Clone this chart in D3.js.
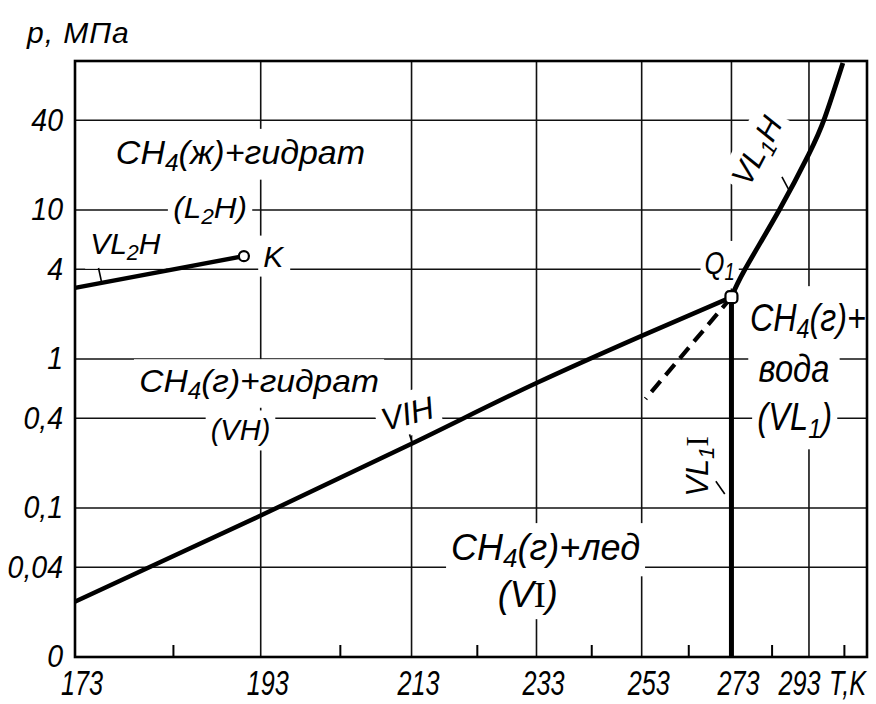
<!DOCTYPE html>
<html>
<head>
<meta charset="utf-8">
<script src="https://cdnjs.cloudflare.com/ajax/libs/d3/7.8.5/d3.min.js"></script>
<style>
  body { margin: 0; background: #fff; }
  svg { display: block; }
  text { font-family: "Liberation Sans", Arial, sans-serif; font-style: italic; fill: #000; }
</style>
</head>
<body>
<svg id="chart"></svg>
<script>
// temperature axis, K (plotted as 1/T)
const tempRange = [173, 310];
const tempTicks = [173, 193, 213, 233, 253, 273, 293];
const tempMinor = [183, 203, 223, 243, 263, 283, 303];
// pressure axis, MPa (log)
const pressureRange = [0.01, 100];
const pressureTicks = [0.01, 0.04, 0.1, 0.4, 1, 4, 10, 40];
const pressureLabels = ["0", "0,04", "0,1", "0,4", "1", "4", "10", "40"];

// VL2H: gas + liquid CH4 + hydrate, ends at K
const vl2hT = [173, 191];
const vl2hP = [3.0, 4.9];
// VIH: gas + ice + hydrate
const vihT = [173, 193, 213, 233, 253, 273];
const vihP = [0.0235, 0.089, 0.27, 0.69, 1.43, 2.6];
// VL1H: gas + water + hydrate
const vl1hT = [273, 276.3, 285, 293, 297.5, 302.7];
const vl1hP = [2.6, 4, 10, 23.8, 42, 97];
// metastable continuation below Q1 (dashed)
const dashT = [273, 253.8];
const dashP = [2.6, 0.54];
// VL1I: ice melting
const vl1iT = [273, 273];
const vl1iP = [0.01, 2.6];
// special points
const pointK = [191, 4.9];
const pointQ1 = [273, 2.6];

// region / line names, placed in data units
const labels = [
  {text: 'CH_4(ж)+гидрат', T: 190.6, p: 20.4, size: 34},
  {text: '(L_2H)', T: 187.1, p: 8.87, size: 30, sx: 1.05},
  {text: 'VL_2H', T: 178.0, p: 5.09, size: 30},
  {text: 'K', T: 193.3, p: 4.17, size: 30, anchor: 'start'},
  {text: 'CH_4(г)+гидрат', T: 192.8, p: 0.596, size: 32, sx: 1.05},
  {text: '(VH)', T: 190.6, p: 0.284, size: 29},
  {text: 'VIH', T: 212.8, p: 0.364, size: 32, angle: -15},
  {text: 'CH_4(г)+лед', T: 234.6, p: 0.0447, size: 36},
  {text: '(V~I)', T: 231.5, p: 0.0216, size: 36},
  {text: 'Q_1', T: 270.2, p: 3.74, size: 32, sx: 0.8},
  {text: 'CH_4(г)+', T: 292.7, p: 1.55, size: 38, sx: 0.85, pad: [3, 10]},
  {text: 'вода', T: 288.9, p: 0.696, size: 38, sx: 0.86, pad: [12, 10]},
  {text: '(VL_1)', T: 289.1, p: 0.332, size: 38, sx: 0.86, pad: [6, 6]},
  {text: 'VL_1~I', T: 267.4, p: 0.19, size: 31, angle: -90, knock: false},
  {text: 'VL_1H', T: 281.6, p: 23.1, size: 31, angle: -62},
];
// short leader strokes from names to lines
const leaders = [
  {T: [175.3, 175.6], p: [4.08, 3.29]},
  {T: [212.7, 213.2], p: [0.312, 0.267]},
  {T: [269.3, 271.4], p: [0.151, 0.124]},
  {T: [285.7, 287.5], p: [16.7, 13.7]},
];

class PhaseDiagram {

  margin = {top: 61, bottom: 47, left: 75, right: 9}

  constructor(svg, width = 876, height = 704) {
    this.svg = svg;
    this.outerWidth = width;
    this.outerHeight = height;
    this.width = width - this.margin.left - this.margin.right;
    this.height = height - this.margin.top - this.margin.bottom;
  }

  initialize() {
    this.svg = d3.select(this.svg)
      .attr('width', this.outerWidth)
      .attr('height', this.outerHeight);
    this.container = this.svg.append('g')
      .attr('transform', `translate(${this.margin.left},${this.margin.top})`);

    this.xScale = d3.scaleLinear()
      .domain([1 / tempRange[0], 1 / tempRange[1]])
      .range([0, this.width]);
    this.yScale = d3.scaleLog().domain(pressureRange).range([this.height, 0]);
    this.x = t => this.xScale(1 / t);
    this.y = p => this.yScale(p);

    this.gridLayer = this.container.append('g');
    this.knockLayer = this.container.append('g');
    this.textLayer = this.container.append('g');
    this.lineLayer = this.container.append('g');
    this.frameLayer = this.container.append('g');
  }

  drawGrid() {
    this.gridLayer.selectAll('.hgrid')
      .data(pressureTicks.slice(1))
      .join('line')
        .attr('class', 'hgrid')
        .attr('x1', 0).attr('x2', this.width)
        .attr('y1', d => this.y(d)).attr('y2', d => this.y(d));
    this.gridLayer.selectAll('.vgrid')
      .data(tempTicks.slice(1))
      .join('line')
        .attr('class', 'vgrid')
        .attr('x1', d => this.x(d)).attr('x2', d => this.x(d))
        .attr('y1', 0).attr('y2', this.height);
    this.gridLayer.selectAll('line')
      .attr('stroke', '#111')
      .attr('stroke-width', 1.6);
  }

  drawAxes() {
    const xAxis = d3.axisBottom(this.xScale)
      .tickValues(tempTicks.map(t => 1 / t))
      .tickFormat(v => Math.round(1 / v))
      .tickSize(0)
      .tickPadding(13);
    const xg = this.frameLayer.append('g')
      .attr('transform', `translate(0,${this.height})`)
      .call(xAxis);
    xg.select('.domain').remove();
    xg.selectAll('text')
      .style('font-size', '35px')
      .attr('dx', (d, i) => i === tempTicks.length - 1 ? -14 : 9)
      .attr('transform', 'scale(0.72,1)');
    xg.append('text')
      .attr('text-anchor', 'end')
      .attr('transform', `translate(${this.width - 1},${this.margin.bottom - 9}) scale(0.72,1)`)
      .style('font-size', '35px')
      .text('T,K');

    const minor = d3.axisBottom(this.xScale)
      .tickValues(tempMinor.map(t => 1 / t))
      .tickFormat('')
      .tickSizeInner(-12)
      .tickSizeOuter(0);
    const mg = this.frameLayer.append('g')
      .attr('transform', `translate(0,${this.height})`)
      .call(minor);
    mg.select('.domain').remove();
    mg.selectAll('line').attr('stroke', '#000').attr('stroke-width', 2);

    const yAxis = d3.axisLeft(this.yScale)
      .tickValues(pressureTicks)
      .tickFormat((d, i) => pressureLabels[i])
      .tickSize(0)
      .tickPadding(13);
    const yg = this.frameLayer.append('g').call(yAxis);
    yg.select('.domain').remove();
    yg.selectAll('text')
      .style('font-size', '31px')
      .attr('transform', 'scale(0.92,1)');

    this.svg.append('text')
      .attr('x', 27).attr('y', 43)
      .style('font-size', '30px')
      .style('letter-spacing', '1px')
      .text('p, МПа');

    this.frameLayer.append('rect')
      .attr('width', this.width).attr('height', this.height)
      .attr('fill', 'none')
      .attr('stroke', '#000')
      .attr('stroke-width', 2.6);
  }

  writeRich(text, str, size) {
    const shift = 0.2 * size;
    let down = false;
    str.split(/(_\S|~\S)/).filter(s => s).forEach(part => {
      const ts = text.append('tspan');
      if (part[0] === '_') {
        ts.text(part[1]).style('font-size', (0.72 * size) + 'px').attr('dy', shift);
        down = true;
      } else {
        if (down) { ts.attr('dy', -shift); down = false; }
        if (part[0] === '~') {
          ts.text(part[1])
            .style('font-family', '"Liberation Serif", "DejaVu Serif", serif')
            .style('font-style', 'normal');
        } else {
          ts.text(part);
        }
      }
    });
  }

  drawLabels() {
    labels.forEach(d => {
      const tf = `translate(${this.x(d.T)},${this.y(d.p)}) rotate(${d.angle || 0}) scale(${d.sx || 1},1)`;
      const kg = this.knockLayer.append('g').attr('transform', tf);
      const tg = this.textLayer.append('g').attr('transform', tf);
      const text = tg.append('text')
        .attr('text-anchor', d.anchor || 'middle')
        .style('font-size', d.size + 'px');
      this.writeRich(text, d.text, d.size);
      if (d.knock === false) return;
      const pad = d.pad || [5, 4];
      const b = text.node().getBBox();
      kg.append('rect')
        .attr('x', b.x - pad[0]).attr('y', b.y - pad[1])
        .attr('width', b.width + 2 * pad[0]).attr('height', b.height + 2 * pad[1])
        .attr('fill', '#fff');
    });
  }

  drawLines() {
    const line = d3.line()
      .x(d => this.x(d[0]))
      .y(d => this.y(d[1]));
    const series = [
      {T: vl2hT, P: vl2hP, w: 4.5, curve: d3.curveLinear},
      {T: vihT, P: vihP, w: 4.5, curve: d3.curveMonotoneX},
      {T: vl1hT, P: vl1hP, w: 4.8, curve: d3.curveNatural},
      {T: dashT, P: dashP, w: 4.2, dash: '14,8', curve: d3.curveLinear},
      {T: vl1iT, P: vl1iP, w: 5, curve: d3.curveLinear},
    ];
    this.lineLayer.selectAll('.phase')
      .data(series)
      .join('path')
        .attr('class', 'phase')
        .attr('d', s => line.curve(s.curve)(s.T.map((t, i) => [t, s.P[i]])))
        .attr('fill', 'none')
        .attr('stroke', '#000')
        .attr('stroke-width', s => s.w)
        .attr('stroke-dasharray', s => s.dash || null);

    this.lineLayer.selectAll('.leader')
      .data(leaders)
      .join('line')
        .attr('class', 'leader')
        .attr('x1', d => this.x(d.T[0])).attr('y1', d => this.y(d.p[0]))
        .attr('x2', d => this.x(d.T[1])).attr('y2', d => this.y(d.p[1]))
        .attr('stroke', '#000')
        .attr('stroke-width', 1.6);

    this.frameLayer.append('circle')
      .attr('cx', this.x(pointK[0])).attr('cy', this.y(pointK[1]))
      .attr('r', 5)
      .attr('fill', '#fff').attr('stroke', '#000').attr('stroke-width', 2.2);
    this.frameLayer.append('rect')
      .attr('x', this.x(pointQ1[0]) - 6).attr('y', this.y(pointQ1[1]) - 6)
      .attr('width', 12).attr('height', 12).attr('rx', 4)
      .attr('fill', '#fff').attr('stroke', '#000').attr('stroke-width', 2.2);
  }

  render() {
    this.drawGrid();
    this.drawLabels();
    this.drawLines();
    this.drawAxes();
  }
}

const chart = new PhaseDiagram(document.getElementById('chart'));
chart.initialize();
chart.render();
</script>
</body>
</html>
